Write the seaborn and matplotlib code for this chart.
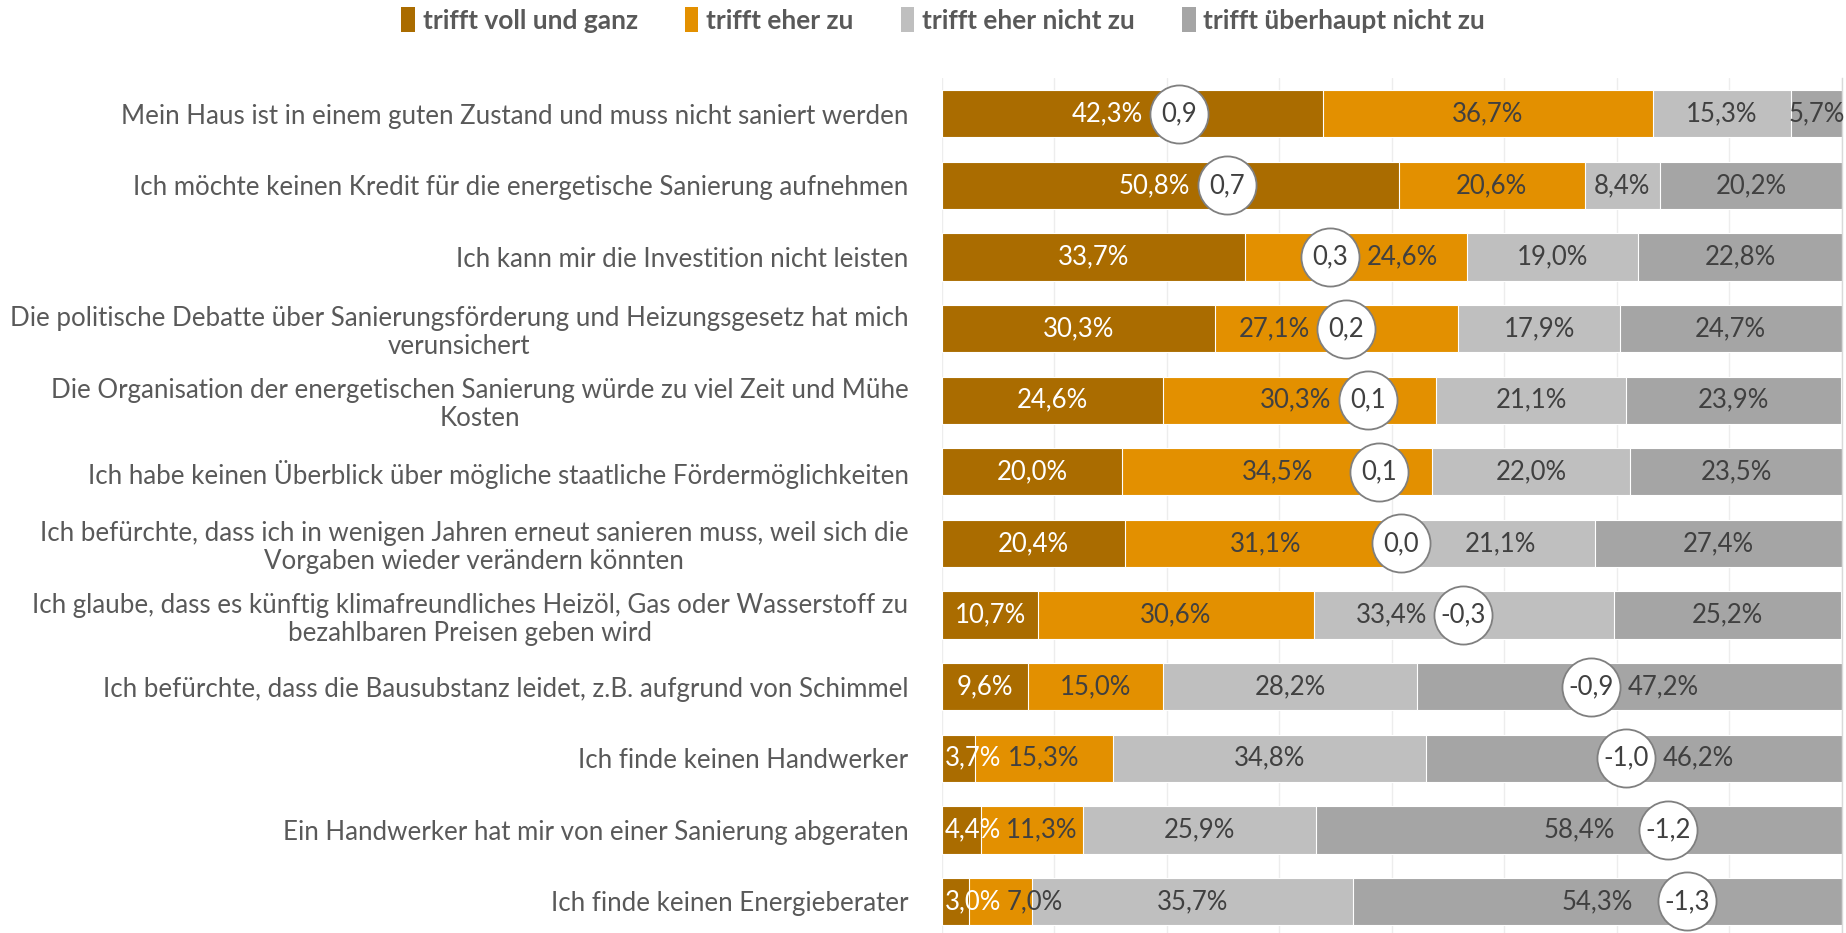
import matplotlib
matplotlib.use("Agg")
import matplotlib.pyplot as plt
import seaborn as sns
import pandas as pd
import numpy as np
from matplotlib.patches import Patch

# data
statements = [
    "Mein Haus ist in einem guten Zustand und muss nicht saniert werden",
    "Ich möchte keinen Kredit für die energetische Sanierung aufnehmen",
    "Ich kann mir die Investition nicht leisten",
    "Die politische Debatte über Sanierungsförderung und Heizungsgesetz hat mich\nverunsichert",
    "Die Organisation der energetischen Sanierung würde zu viel Zeit und Mühe\nKosten",
    "Ich habe keinen Überblick über mögliche staatliche Fördermöglichkeiten",
    "Ich befürchte, dass ich in wenigen Jahren erneut sanieren muss, weil sich die\nVorgaben wieder verändern könnten",
    "Ich glaube, dass es künftig klimafreundliches Heizöl, Gas oder Wasserstoff zu\nbezahlbaren Preisen geben wird",
    "Ich befürchte, dass die Bausubstanz leidet, z.B. aufgrund von Schimmel",
    "Ich finde keinen Handwerker",
    "Ein Handwerker hat mir von einer Sanierung abgeraten",
    "Ich finde keinen Energieberater",
]
voll = [42.3, 50.8, 33.7, 30.3, 24.6, 20.0, 20.4, 10.7, 9.6, 3.7, 4.4, 3.0]
eher = [36.7, 20.6, 24.6, 27.1, 30.3, 34.5, 31.1, 30.6, 15.0, 15.3, 11.3, 7.0]
eher_nicht = [15.3, 8.4, 19.0, 17.9, 21.1, 22.0, 21.1, 33.4, 28.2, 34.8, 25.9, 35.7]
gar_nicht = [5.7, 20.2, 22.8, 24.7, 23.9, 23.5, 27.4, 25.2, 47.2, 46.2, 58.4, 54.3]
mittelwert = [0.946, 0.734, 0.274, 0.204, 0.106, 0.056, -0.040, -0.318, -0.884, -1.04, -1.226, -1.313]

series_names = ["trifft voll und ganz", "trifft eher zu", "trifft eher nicht zu", "trifft überhaupt nicht zu"]
colors = ["#AA6C00", "#E39000", "#BFBFBF", "#A5A5A5"]

df = pd.DataFrame({"Aussage": statements, "voll": voll, "eher": eher,
                   "eher_nicht": eher_nicht, "gar_nicht": gar_nicht})
df["c1"] = df["voll"]
df["c2"] = df["c1"] + df["eher"]
df["c3"] = df["c2"] + df["eher_nicht"]
df["c4"] = df["c3"] + df["gar_nicht"]

sns.set_theme(style="white")
plt.rcParams["font.family"] = ["Lato", "DejaVu Sans"]

fig = plt.figure(figsize=(18.46, 9.33), dpi=100)
ax = fig.add_axes([0.5102, 0.0, 0.4876, 0.9164])

# stacked bars by overlaying the cumulative sums
for col, colr in zip(["c4", "c3", "c2", "c1"], colors[::-1]):
    sns.barplot(data=df, x=col, y="Aussage", orient="h", color=colr, width=0.66,
                edgecolor="white", linewidth=0.8, saturation=1, ax=ax, zorder=2)

ax.set_xlim(0, 100)
ax.set_ylim(11.44, -0.5)
ax.set_xlabel("")
ax.set_ylabel("")
ax.set_xticks(np.arange(0, 100.1, 12.5))
ax.set_xticklabels([])
ax.tick_params(axis="x", length=0)
ax.grid(axis="x", color="#EDEDED", linewidth=1.0, zorder=0)
ax.set_axisbelow(True)
for s in ["top", "bottom", "left"]:
    ax.spines[s].set_visible(False)
ax.spines["right"].set_color("#D9D9D9")
ax.spines["right"].set_linewidth(1.0)

ax.tick_params(axis="y", length=0, pad=24, labelsize=18.6, labelcolor="#595959")
for t in ax.get_yticklabels():
    t.set_multialignment("center")
    t.set_linespacing(1.15)

# mean score on a secondary axis (+2 left ... -2 right)
ax2 = ax.twiny()
ax2.set_xlim(2, -2)
ax2.set_xticks([])
for s in ax2.spines.values():
    s.set_visible(False)
ypos = np.arange(len(statements))
ax2.scatter(mittelwert, ypos, s=1750, facecolor="white", edgecolor="#7F7F7F",
            linewidth=1.3, zorder=5)
for m, y in zip(mittelwert, ypos):
    txt = f"{m:.1f}".replace(".", ",")
    if txt == "-0,0":
        txt = "0,0"
    ax2.text(m, y, txt, ha="center", va="center", fontsize=18.5, color="#404040", zorder=6)

# value labels, pushed aside where the mean circle sits on them
series = [voll, eher, eher_nicht, gar_nicht]
min_gap = 8.0
rows = []
for i in range(len(statements)):
    circ = (2 - mittelwert[i]) * 25
    left = 0.0
    row = []
    for k, vals in enumerate(series):
        v = vals[i]
        xc = left + v / 2
        d = xc - circ
        if abs(d) < min_gap:
            side = 1 if d > 0.5 else -1
            xc = circ + side * min_gap
        t = ax.text(xc, i, f"{v:.1f}%".replace(".", ","), ha="center", va="center",
                    fontsize=18.5, color="white" if k == 0 else "#404040", zorder=4)
        row.append(t)
        left += v
    rows.append(row)

# keep labels inside the plot and off each other (small segments)
fig.canvas.draw()
r = fig.canvas.get_renderer()
inv = ax.transData.inverted()
for row in rows:
    prev_right = 0.3
    for t in row:
        bb = t.get_window_extent(r)
        x0 = inv.transform((bb.x0, 0))[0]
        x1 = inv.transform((bb.x1, 0))[0]
        if x0 < prev_right:
            shift = prev_right - x0
            t.set_x(t.get_position()[0] + shift)
            x1 += shift
        prev_right = x1 + 0.6

handles = [Patch(facecolor=c, edgecolor="none") for c in colors]
leg = fig.legend(handles, series_names, loc="upper center", bbox_to_anchor=(0.511, 1.018),
                 ncol=4, frameon=False, handlelength=0.5, handleheight=1.1,
                 handletextpad=0.3, columnspacing=1.8,
                 prop={"size": 19, "weight": "bold"})
for t in leg.get_texts():
    t.set_color("#595959")

fig.savefig("out.png", dpi=100, facecolor="white")
